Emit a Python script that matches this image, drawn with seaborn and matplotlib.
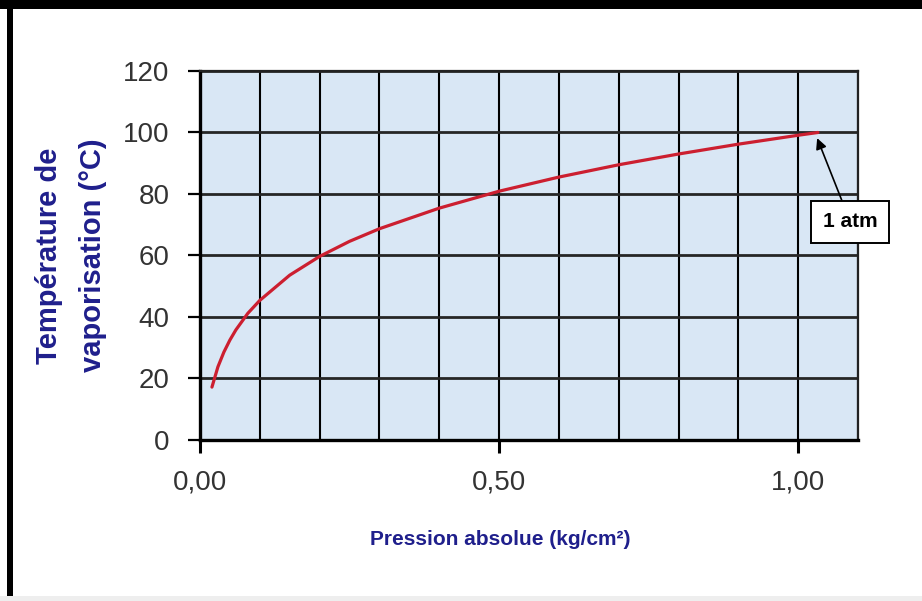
import matplotlib
matplotlib.use("Agg")
import matplotlib.pyplot as plt
import matplotlib.ticker as mticker
from matplotlib.patches import Rectangle
import seaborn as sns

# Data (steam saturation curve)
pression = [0.02, 0.03, 0.04, 0.05, 0.06, 0.08, 0.10, 0.15, 0.20, 0.25,
            0.30, 0.40, 0.50, 0.60, 0.70, 0.80, 0.90, 1.00, 1.033]
temperature = [17.2, 23.8, 28.6, 32.5, 35.8, 41.2, 45.4, 53.6, 59.7, 64.6,
               68.7, 75.4, 80.9, 85.5, 89.5, 93.0, 96.2, 99.1, 100.0]
x_ticks = [0.0, 0.5, 1.0]
y_ticks = [0, 20, 40, 60, 80, 100, 120]
annot_label = "1 atm"
annot_point = (1.03, 99.0)
annot_text_pos = (1.087, 71)

NAVY = "#1f1f8c"
RED = "#cc1f30"

sns.set_theme(style="white")
plt.rcParams["font.family"] = ["Liberation Sans", "DejaVu Sans"]

fig = plt.figure(figsize=(9.22, 6.01), dpi=100, facecolor="white")
ax = fig.add_axes([0.2169, 0.2679, 0.7137, 0.6140])
ax.set_facecolor("#d9e7f5")

sns.lineplot(x=pression, y=temperature, ax=ax, color=RED, linewidth=2.3,
             sort=True, zorder=5)

ax.set_xlim(0, 1.1)
ax.set_ylim(0, 120)
ax.xaxis.set_major_locator(mticker.FixedLocator(x_ticks))
ax.xaxis.set_minor_locator(mticker.MultipleLocator(0.1))
ax.xaxis.set_major_formatter(mticker.FuncFormatter(lambda v, p: f"{v:.2f}".replace(".", ",")))
ax.yaxis.set_major_locator(mticker.FixedLocator(y_ticks))

# grid: vertical every 0.1, horizontal every 20
ax.grid(False)
ax.grid(True, which="minor", axis="x", color="black", linewidth=1.5)
ax.grid(True, which="major", axis="x", color="black", linewidth=1.5)
ax.grid(True, which="major", axis="y", color="#262626", linewidth=2.0)
ax.set_axisbelow(True)

for side in ["left", "bottom"]:
    ax.spines[side].set_linewidth(2.4)
    ax.spines[side].set_color("black")
for side in ["top", "right"]:
    ax.spines[side].set_linewidth(1.6)
    ax.spines[side].set_color("#222222")

ax.tick_params(axis="x", which="major", direction="out", length=9, width=2.2,
               color="black", pad=12, labelsize=20, labelcolor="#333333", bottom=True)
ax.tick_params(axis="x", which="minor", length=0)
ax.tick_params(axis="y", which="major", direction="out", length=9, width=1.6,
               color="black", pad=13, labelsize=20, labelcolor="#333333", left=True)

ax.set_xlabel("Pression absolue (kg/cm²)", fontsize=15, fontweight="bold",
              color=NAVY, va="center", ha="center")
ax.xaxis.set_label_coords(0.457, -0.271)
ax.set_ylabel("Température de\nvaporisation (°C)", fontsize=21, fontweight="bold",
              color=NAVY, va="center", ha="center", linespacing=1.75)
ax.yaxis.set_label_coords(-0.196, 0.5)

ax.annotate(annot_label, xy=annot_point, xytext=annot_text_pos,
            fontsize=15, fontweight="bold", color="black", ha="center", va="center",
            bbox=dict(boxstyle="square,pad=0.55", fc="white", ec="black", lw=1.4),
            arrowprops=dict(arrowstyle="-|>", color="black", lw=1.2,
                            mutation_scale=16, shrinkA=0, shrinkB=2),
            annotation_clip=False, zorder=6)

# black frame remnants of the screenshot
fig.add_artist(Rectangle((0, 1 - 9 / 601), 1, 9 / 601, transform=fig.transFigure,
                         facecolor="black", edgecolor="none"))
fig.add_artist(Rectangle((7 / 922, 0), 6 / 922, 1, transform=fig.transFigure,
                         facecolor="black", edgecolor="none"))
fig.add_artist(Rectangle((0, 0), 1, 5 / 601, transform=fig.transFigure,
                         facecolor="#eeeeee", edgecolor="none"))

fig.savefig("out.png", dpi=100, facecolor="white")
